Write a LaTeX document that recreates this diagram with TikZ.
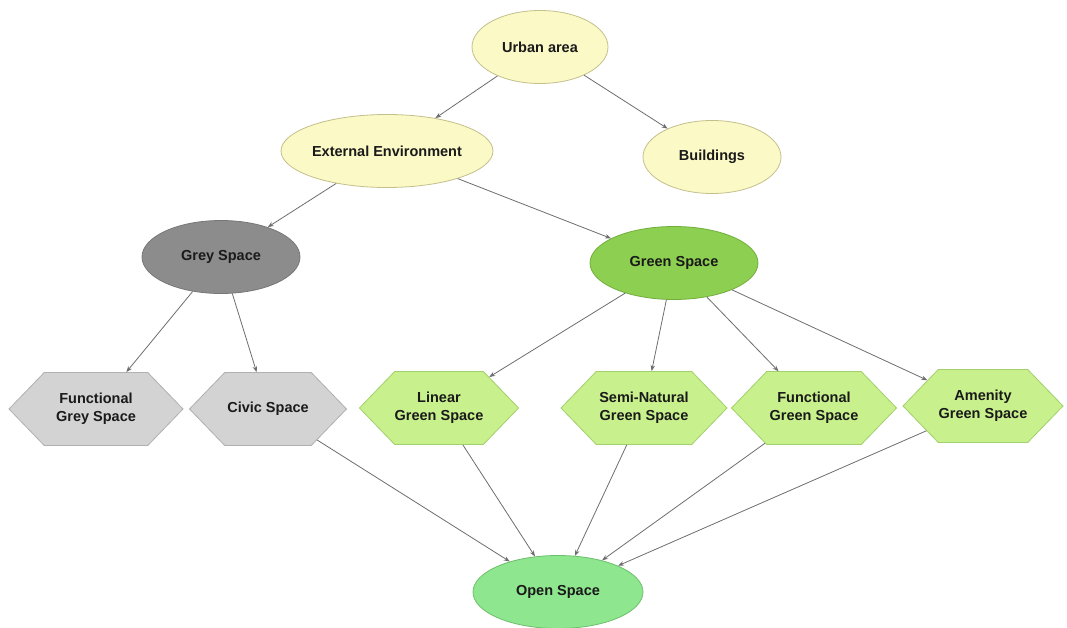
\documentclass[tikz,border=0pt]{standalone}
\usepackage{fontspec}
\setmainfont{Liberation Sans}
\usetikzlibrary{shapes.geometric,shapes.symbols,arrows.meta}
\definecolor{ylfill}{HTML}{FBF9C6}
\definecolor{yldraw}{HTML}{C4C08C}
\definecolor{gyfill}{HTML}{8C8C8C}
\definecolor{gydraw}{HTML}{777777}
\definecolor{gnfill}{HTML}{8DCF50}
\definecolor{gndraw}{HTML}{72AE3C}
\definecolor{hgfill}{HTML}{D3D3D3}
\definecolor{hgdraw}{HTML}{B0B0B0}
\definecolor{hnfill}{HTML}{C8F08C}
\definecolor{hndraw}{HTML}{A2D06C}
\definecolor{opfill}{HTML}{8EE68E}
\definecolor{opdraw}{HTML}{6CC06C}
\definecolor{edgec}{HTML}{6E6E6E}
\definecolor{txt}{HTML}{1A1A1A}
\tikzset{
  lbl/.style={font=\fontsize{14.5}{18}\selectfont\bfseries, text=txt, align=center, inner sep=0pt, line width=0.8pt},
  ell/.style={lbl, ellipse, minimum width=#1, minimum height=73pt},
  hexa/.style={lbl, signal, signal to=east and west, signal pointer angle=92, minimum width=#1, minimum height=73pt},
  yl/.style={fill=ylfill, draw=yldraw},
  gy/.style={fill=gyfill, draw=gydraw},
  gn/.style={fill=gnfill, draw=gndraw},
  hg/.style={fill=hgfill, draw=hgdraw},
  hn/.style={fill=hnfill, draw=hndraw},
  op/.style={fill=opfill, draw=opdraw},
  link/.style={draw=edgec, line width=0.8pt, -{Stealth[length=6pt,width=4.5pt]}}
}
\begin{document}
\begin{tikzpicture}[x=1pt,y=-1pt]
\useasboundingbox[fill=white] (0,0) rectangle (1067,628);
\node[ell=136pt, yl] (urban) at (540,47) {Urban area};
\node[ell=188pt, yl] (ext) at (387,151) {External Environment};
\node[ell=138pt, yl] (bld) at (712,157) {Buildings};
\node[ell=158pt, gy] (grey) at (221,257) {Grey Space};
\node[ell=168pt, gn] (green) at (674,263) {Green Space};
\node[hexa=174pt, hg] (fgrey) at (96,409) {Functional\\Grey Space};
\node[hexa=157pt, hg] (civic) at (268,409) {Civic Space};
\node[hexa=159pt, hn] (linear) at (439,408) {Linear\\Green Space};
\node[hexa=166pt, hn] (semi) at (644,408) {Semi-Natural\\Green Space};
\node[hexa=165pt, hn] (fgreen) at (814,408) {Functional\\Green Space};
\node[hexa=160pt, hn] (amen) at (983,406) {Amenity\\Green Space};
\node[ell=170pt, op] (open) at (558,592) {Open Space};
\draw[link] (urban) -- (ext);
\draw[link] (urban) -- (bld);
\draw[link] (ext) -- (grey);
\draw[link] (ext) -- (green);
\draw[link] (grey) -- (fgrey);
\draw[link] (grey) -- (civic);
\draw[link] (green) -- (linear);
\draw[link] (green) -- (semi);
\draw[link] (green) -- (fgreen);
\draw[link] (green) -- (amen);
\draw[link] (civic) -- (open);
\draw[link] (linear) -- (open);
\draw[link] (semi) -- (open);
\draw[link] (fgreen) -- (open);
\draw[link] (amen) -- (open);
\end{tikzpicture}
\end{document}
